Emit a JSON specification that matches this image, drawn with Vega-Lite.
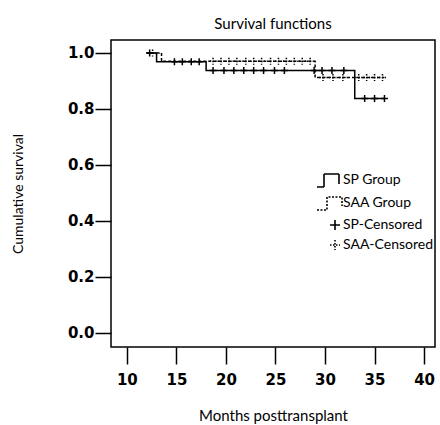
{
  "$schema": "https://vega.github.io/schema/vega-lite/v6.json",
  "autosize": "none",
  "width": 324,
  "height": 307,
  "padding": {"left": 111, "top": 40, "right": 5, "bottom": 78},
  "background": "white",
  "config": {
    "view": {"stroke": "black", "strokeWidth": 1.5},
    "axis": {"grid": false, "domain": false, "tickColor": "black", "tickWidth": 1.5, "labelColor": "black", "titleColor": "black", "labelFont": "DejaVu Sans", "labelFontWeight": "bold", "titleFont": "Lato", "titleFontWeight": "normal"},
    "title": {"font": "Lato", "fontSize": 15, "fontWeight": "normal", "color": "black", "offset": 8}
  },
  "title": "Survival functions",
  "datasets": {
    "sp": [
      {"t": 12, "s": 1.0}, {"t": 13, "s": 0.968}, {"t": 18, "s": 0.937}, {"t": 33, "s": 0.837}, {"t": 36, "s": 0.837}
    ],
    "saa": [
      {"t": 12, "s": 1.0}, {"t": 13.5, "s": 0.97}, {"t": 29, "s": 0.912}, {"t": 36, "s": 0.912}
    ],
    "cens": [
      {"t": 12.3, "s": 1.0, "legend": "SP-Censored"},
      {"t": 14.8, "s": 0.968, "legend": "SP-Censored"},
      {"t": 15.6, "s": 0.968, "legend": "SP-Censored"},
      {"t": 16.5, "s": 0.968, "legend": "SP-Censored"},
      {"t": 17.3, "s": 0.968, "legend": "SP-Censored"},
      {"t": 18.7, "s": 0.937, "legend": "SP-Censored"},
      {"t": 19.8, "s": 0.937, "legend": "SP-Censored"},
      {"t": 20.8, "s": 0.937, "legend": "SP-Censored"},
      {"t": 21.8, "s": 0.937, "legend": "SP-Censored"},
      {"t": 22.8, "s": 0.937, "legend": "SP-Censored"},
      {"t": 23.8, "s": 0.937, "legend": "SP-Censored"},
      {"t": 24.9, "s": 0.937, "legend": "SP-Censored"},
      {"t": 25.9, "s": 0.937, "legend": "SP-Censored"},
      {"t": 28.9, "s": 0.937, "legend": "SP-Censored"},
      {"t": 29.7, "s": 0.937, "legend": "SP-Censored"},
      {"t": 30.7, "s": 0.937, "legend": "SP-Censored"},
      {"t": 31.9, "s": 0.937, "legend": "SP-Censored"},
      {"t": 34.0, "s": 0.837, "legend": "SP-Censored"},
      {"t": 35.0, "s": 0.837, "legend": "SP-Censored"},
      {"t": 36.0, "s": 0.837, "legend": "SP-Censored"},
      {"t": 12.6, "s": 1.0, "legend": "SAA-Censored"},
      {"t": 18.7, "s": 0.97, "legend": "SAA-Censored"},
      {"t": 19.5, "s": 0.97, "legend": "SAA-Censored"},
      {"t": 20.3, "s": 0.97, "legend": "SAA-Censored"},
      {"t": 21.1, "s": 0.97, "legend": "SAA-Censored"},
      {"t": 22.0, "s": 0.97, "legend": "SAA-Censored"},
      {"t": 22.8, "s": 0.97, "legend": "SAA-Censored"},
      {"t": 23.6, "s": 0.97, "legend": "SAA-Censored"},
      {"t": 24.5, "s": 0.97, "legend": "SAA-Censored"},
      {"t": 25.3, "s": 0.97, "legend": "SAA-Censored"},
      {"t": 26.1, "s": 0.97, "legend": "SAA-Censored"},
      {"t": 26.9, "s": 0.97, "legend": "SAA-Censored"},
      {"t": 27.7, "s": 0.97, "legend": "SAA-Censored"},
      {"t": 28.5, "s": 0.97, "legend": "SAA-Censored"},
      {"t": 29.8, "s": 0.912, "legend": "SAA-Censored"},
      {"t": 30.8, "s": 0.912, "legend": "SAA-Censored"},
      {"t": 31.8, "s": 0.912, "legend": "SAA-Censored"},
      {"t": 33.4, "s": 0.912, "legend": "SAA-Censored"},
      {"t": 34.2, "s": 0.912, "legend": "SAA-Censored"},
      {"t": 35.0, "s": 0.912, "legend": "SAA-Censored"},
      {"t": 35.8, "s": 0.912, "legend": "SAA-Censored"}
    ]
  },
  "encoding": {
    "x": {
      "field": "t", "type": "quantitative",
      "scale": {"domain": [8.4, 41.1], "nice": false, "zero": false},
      "axis": {"values": [10, 15, 20, 25, 30, 35, 40], "tickSize": 17, "labelFontSize": 15, "labelPadding": 8, "title": "Months posttransplant", "titleFontSize": 15, "titlePadding": 21}
    },
    "y": {
      "field": "s", "type": "quantitative",
      "scale": {"domain": [-0.05, 1.046], "nice": false, "zero": false},
      "axis": {"values": [0, 0.2, 0.4, 0.6, 0.8, 1.0], "format": ".1f", "tickSize": 16, "labelFontSize": 15, "labelPadding": 1, "title": "Cumulative survival", "titleFontSize": 14, "titlePadding": 42}
    }
  },
  "layer": [
    {
      "data": {"name": "sp"},
      "mark": {"type": "line", "interpolate": "step-after", "color": "black", "strokeWidth": 1.5}
    },
    {
      "data": {"name": "saa"},
      "mark": {"type": "line", "interpolate": "step-after", "color": "black", "strokeWidth": 1.5, "strokeDash": [3, 2]}
    },
    {
      "data": {"name": "cens"},
      "mark": {"type": "point", "filled": false, "color": "black", "strokeWidth": 1.5, "size": 49, "opacity": 1},
      "encoding": {
        "shape": {
          "field": "legend", "type": "nominal",
          "scale": {
            "domain": ["SP Group", "SAA Group", "SP-Censored", "SAA-Censored"],
            "range": ["M-3.6,1.4H-2.2V-1.2H0.8V0.8", "M-3.6,1.4H-1.6V-1.2H1.4V0.6", "M-1,0H1M0,-1V1", "M-1,0H1M0,-1V1"]
          },
          "legend": {
            "orient": "none", "legendX": 217, "legendY": 133, "title": null, "padding": 0,
            "symbolSize": 100, "symbolStrokeColor": "black", "symbolFillColor": "transparent", "symbolStrokeWidth": 1.6,
            "labelFont": "Lato", "labelFontSize": 14, "labelColor": "black", "labelOffset": 1, "rowPadding": 2
          }
        },
        "strokeDash": {
          "field": "legend", "type": "nominal",
          "scale": {
            "domain": ["SP Group", "SAA Group", "SP-Censored", "SAA-Censored"],
            "range": [[1, 0], [2, 1.5], [1, 0], [1.5, 1.5]]
          },
          "legend": {
            "orient": "none", "legendX": 217, "legendY": 133, "title": null, "padding": 0,
            "symbolSize": 100, "symbolStrokeColor": "black", "symbolFillColor": "transparent", "symbolStrokeWidth": 1.6,
            "labelFont": "Lato", "labelFontSize": 14, "labelColor": "black", "labelOffset": 1, "rowPadding": 2
          }
        }
      }
    }
  ]
}
